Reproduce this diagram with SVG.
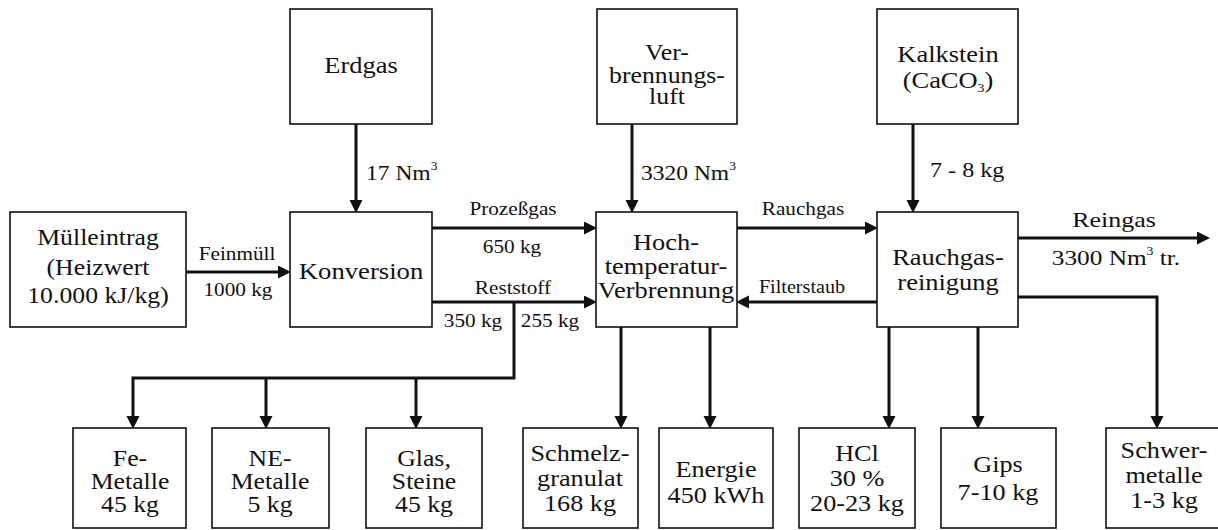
<svg xmlns="http://www.w3.org/2000/svg" width="1218" height="530" viewBox="0 0 1218 530">
<style>
  .box { fill: #fff; stroke: #111; stroke-width: 1.6; }
  .c { fill: none; stroke: #111; stroke-width: 3; }
  .t { font-family: 'Liberation Serif', serif; font-size: 23px; fill: #111; text-anchor: middle; }
  .s { font-family: 'Liberation Serif', serif; font-size: 18px; fill: #111; text-anchor: middle; }
  .a { font-family: 'Liberation Serif', serif; font-size: 21px; fill: #111; }
  .m { font-family: 'Liberation Serif', serif; font-size: 22px; fill: #111; text-anchor: middle; }
</style>
<defs>
  <marker id="ah" markerUnits="userSpaceOnUse" markerWidth="14" markerHeight="14" refX="9" refY="6.5" orient="auto">
    <path d="M0,0 L13,6.5 L0,13 z" fill="#111"/>
  </marker>
</defs>
<rect width="1218" height="530" fill="#fff"/>

<g id="connectors">
  <path class="c" d="M356,124 V209" marker-end="url(#ah)"/>
  <path class="c" d="M632,124 V209" marker-end="url(#ah)"/>
  <path class="c" d="M913,124 V209" marker-end="url(#ah)"/>
  <path class="c" d="M186,272 H287" marker-end="url(#ah)"/>
  <path class="c" d="M432,228 H593" marker-end="url(#ah)"/>
  <path class="c" d="M737,228 H874" marker-end="url(#ah)"/>
  <path class="c" d="M1018,238 H1206" marker-end="url(#ah)"/>
  <path class="c" d="M432,302 H593" marker-end="url(#ah)"/>
  <path class="c" d="M514,302 V378 H133 V425" marker-end="url(#ah)"/>
  <path class="c" d="M266,378 V425" marker-end="url(#ah)"/>
  <path class="c" d="M416,378 V425" marker-end="url(#ah)"/>
  <path class="c" d="M621,327 V425" marker-end="url(#ah)"/>
  <path class="c" d="M710,327 V425" marker-end="url(#ah)"/>
  <path class="c" d="M877,302 H740" marker-end="url(#ah)"/>
  <path class="c" d="M889,327 V425" marker-end="url(#ah)"/>
  <path class="c" d="M978,327 V425" marker-end="url(#ah)"/>
  <path class="c" d="M1018,297 H1157 V425" marker-end="url(#ah)"/>
</g>

<g id="connector-labels">
  <text class="a" font-family="Liberation Serif" transform="translate(366,180) scale(1.12,1)">17 Nm<tspan font-size="12" dy="-10">3</tspan></text>
  <text class="a" font-family="Liberation Serif" transform="translate(641,180) scale(1.12,1)">3320 Nm<tspan font-size="12" dy="-10">3</tspan></text>
  <text class="a" font-family="Liberation Serif" transform="translate(930,177) scale(1.15,1)">7 - 8 kg</text>
  <text class="s" font-family="Liberation Serif" transform="translate(237,260) scale(1.18,1)">Feinmüll</text>
  <text class="s" font-family="Liberation Serif" transform="translate(238,296) scale(1.18,1)">1000 kg</text>
  <text class="s" font-family="Liberation Serif" transform="translate(513,215) scale(1.18,1)">Prozeßgas</text>
  <text class="s" font-family="Liberation Serif" transform="translate(512,253) scale(1.18,1)">650 kg</text>
  <text class="s" font-family="Liberation Serif" transform="translate(803,215) scale(1.18,1)">Rauchgas</text>
  <text class="m" font-family="Liberation Serif" transform="translate(1114,227) scale(1.18,1)">Reingas</text>
  <text class="m" font-family="Liberation Serif" transform="translate(1116,265) scale(1.15,1)">3300 Nm<tspan font-size="12" dy="-10">3</tspan><tspan dy="10"> tr.</tspan></text>
  <text class="s" font-family="Liberation Serif" transform="translate(513,294) scale(1.18,1)">Reststoff</text>
  <text class="s" font-family="Liberation Serif" transform="translate(473,327) scale(1.18,1)">350 kg</text>
  <text class="s" font-family="Liberation Serif" transform="translate(550,327) scale(1.18,1)">255 kg</text>
  <text class="s" font-family="Liberation Serif" transform="translate(802,293) scale(1.12,1)">Filterstaub</text>
</g>

<g id="erdgas">
  <rect class="box" x="290" y="9" width="142" height="115"/>
  <text class="t" font-family="Liberation Serif" transform="translate(361,73) scale(1.15,1)">Erdgas</text>
</g>
<g id="verbrennungsluft">
  <rect class="box" x="597" y="9" width="140" height="115"/>
  <text class="t" font-family="Liberation Serif" transform="translate(667,60) scale(1.12,1)">Ver-</text>
  <text class="t" font-family="Liberation Serif" transform="translate(667,83) scale(1.12,1)">brennungs-</text>
  <text class="t" font-family="Liberation Serif" transform="translate(667,104) scale(1.12,1)">luft</text>
</g>
<g id="kalkstein">
  <rect class="box" x="877" y="9" width="141" height="115"/>
  <text class="t" font-family="Liberation Serif" transform="translate(948,62) scale(1.15,1)">Kalkstein</text>
  <text class="t" font-family="Liberation Serif" transform="translate(948,88) scale(1.15,1)">(CaCO<tspan font-size="12" dy="4">3</tspan><tspan dy="-4">)</tspan></text>
</g>
<g id="muelleintrag">
  <rect class="box" x="10" y="212" width="176" height="115"/>
  <text class="t" font-family="Liberation Serif" transform="translate(98,245) scale(1.12,1)">Mülleintrag</text>
  <text class="t" font-family="Liberation Serif" transform="translate(98,275) scale(1.12,1)">(Heizwert</text>
  <text class="t" font-family="Liberation Serif" transform="translate(98,303) scale(1.12,1)">10.000 kJ/kg)</text>
</g>
<g id="konversion">
  <rect class="box" x="290" y="212" width="142" height="115"/>
  <text class="t" font-family="Liberation Serif" transform="translate(361,279) scale(1.16,1)">Konversion</text>
</g>
<g id="hochtemperatur">
  <rect class="box" x="596" y="212" width="141" height="115"/>
  <text class="t" font-family="Liberation Serif" transform="translate(666,250) scale(1.15,1)">Hoch-</text>
  <text class="t" font-family="Liberation Serif" transform="translate(666,274) scale(1.15,1)">temperatur-</text>
  <text class="t" font-family="Liberation Serif" transform="translate(666,298) scale(1.15,1)">Verbrennung</text>
</g>
<g id="rauchgasreinigung">
  <rect class="box" x="877" y="212" width="141" height="115"/>
  <text class="t" font-family="Liberation Serif" transform="translate(948,265) scale(1.15,1)">Rauchgas-</text>
  <text class="t" font-family="Liberation Serif" transform="translate(948,290) scale(1.15,1)">reinigung</text>
</g>

<g id="fe-metalle">
  <rect class="box" x="73" y="428" width="113" height="100"/>
  <text class="t" font-family="Liberation Serif" transform="translate(130,466) scale(1.12,1)">Fe-</text>
  <text class="t" font-family="Liberation Serif" transform="translate(130,489) scale(1.12,1)">Metalle</text>
  <text class="t" font-family="Liberation Serif" transform="translate(130,512) scale(1.12,1)">45 kg</text>
</g>
<g id="ne-metalle">
  <rect class="box" x="212" y="428" width="117" height="100"/>
  <text class="t" font-family="Liberation Serif" transform="translate(270,466) scale(1.12,1)">NE-</text>
  <text class="t" font-family="Liberation Serif" transform="translate(270,489) scale(1.12,1)">Metalle</text>
  <text class="t" font-family="Liberation Serif" transform="translate(270,512) scale(1.12,1)">5 kg</text>
</g>
<g id="glas-steine">
  <rect class="box" x="366" y="428" width="116" height="100"/>
  <text class="t" font-family="Liberation Serif" transform="translate(424,466) scale(1.12,1)">Glas,</text>
  <text class="t" font-family="Liberation Serif" transform="translate(424,489) scale(1.12,1)">Steine</text>
  <text class="t" font-family="Liberation Serif" transform="translate(424,512) scale(1.12,1)">45 kg</text>
</g>
<g id="schmelzgranulat">
  <rect class="box" x="523" y="428" width="115" height="100"/>
  <text class="t" font-family="Liberation Serif" transform="translate(580,461) scale(1.14,1)">Schmelz-</text>
  <text class="t" font-family="Liberation Serif" transform="translate(580,486) scale(1.14,1)">granulat</text>
  <text class="t" font-family="Liberation Serif" transform="translate(580,511) scale(1.14,1)">168 kg</text>
</g>
<g id="energie">
  <rect class="box" x="659" y="428" width="114" height="100"/>
  <text class="t" font-family="Liberation Serif" transform="translate(716,477) scale(1.14,1)">Energie</text>
  <text class="t" font-family="Liberation Serif" transform="translate(716,503) scale(1.14,1)">450 kWh</text>
</g>
<g id="hcl">
  <rect class="box" x="799" y="428" width="116" height="100"/>
  <text class="t" font-family="Liberation Serif" transform="translate(857,461) scale(1.14,1)">HCl</text>
  <text class="t" font-family="Liberation Serif" transform="translate(857,486) scale(1.14,1)">30 %</text>
  <text class="t" font-family="Liberation Serif" transform="translate(857,511) scale(1.14,1)">20-23 kg</text>
</g>
<g id="gips">
  <rect class="box" x="941" y="428" width="115" height="100"/>
  <text class="t" font-family="Liberation Serif" transform="translate(998,472) scale(1.14,1)">Gips</text>
  <text class="t" font-family="Liberation Serif" transform="translate(998,500) scale(1.14,1)">7-10 kg</text>
</g>
<g id="schwermetalle">
  <rect class="box" x="1106" y="428" width="120" height="100"/>
  <text class="t" font-family="Liberation Serif" transform="translate(1164,458) scale(1.14,1)">Schwer-</text>
  <text class="t" font-family="Liberation Serif" transform="translate(1164,483) scale(1.14,1)">metalle</text>
  <text class="t" font-family="Liberation Serif" transform="translate(1164,508) scale(1.14,1)">1-3 kg</text>
</g>
</svg>
